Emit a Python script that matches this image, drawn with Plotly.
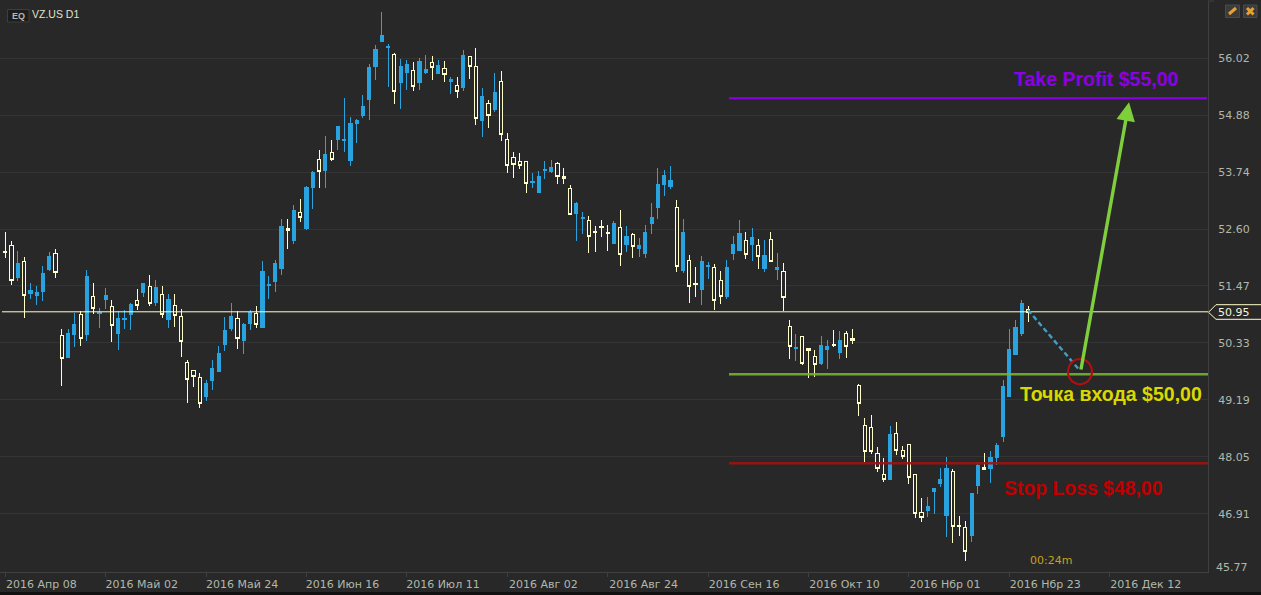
import plotly.graph_objects as go

W, H = 1261, 595
PL, PT, PR, PB = 1208, 1, 1208, 572

BG = "#282828"
GRID = "#343434"
FRAME = "#404040"
CREAM = "#ffffcc"
BLUE = "#29a3df"
AXTXT = "#b0b8ac"

tick_labels = ["2016 Апр 08", "2016 Май 02", "2016 Май 24", "2016 Июн 16", "2016 Июл 11", "2016 Авг 02",
               "2016 Авг 24", "2016 Сен 16", "2016 Окт 10", "2016 Нбр 01", "2016 Нбр 23", "2016 Дек 12"]
bars_per_tick = 16
price_ticks = [56.02, 54.88, 53.74, 52.60, 51.47, 50.33, 49.19, 48.05, 46.91]
last_price_tick = 45.77

highs = [
52.55,52.36,52.16,52.04,51.52,51.46,51.87,52.15,52.20,50.60,
50.60,50.93,50.96,51.79,51.52,51.02,51.42,51.18,50.96,50.98,
51.12,51.40,51.52,51.68,51.58,51.46,51.30,51.30,51.00,49.98,
49.77,49.72,49.58,49.98,50.26,50.84,51.12,50.96,50.72,50.98,
51.06,51.97,51.67,51.99,52.81,52.81,53.09,53.20,53.46,53.76,
54.18,54.47,54.38,54.67,55.22,54.84,54.80,55.28,55.90,56.28,
56.94,56.30,56.12,56.00,55.98,55.94,56.02,56.08,56.06,55.98,
55.97,55.64,55.64,56.18,56.06,56.22,55.42,55.18,55.72,55.76,
54.52,54.14,54.12,53.96,53.72,53.76,53.96,53.98,53.94,53.82,
53.48,53.15,52.94,52.86,52.66,52.78,52.68,52.76,52.98,52.66,
52.52,52.42,52.68,53.12,53.82,53.78,53.86,53.18,52.80,52.08,
51.84,52.06,51.94,51.90,51.76,51.98,52.46,52.78,52.54,52.62,
52.40,52.38,52.54,52.12,51.92,50.78,50.50,50.46,50.23,50.18,
50.46,50.38,50.58,50.56,50.56,50.60,49.50,48.82,48.88,48.24,
48.02,48.66,48.74,48.26,48.31,47.69,47.22,47.24,47.42,47.82,
48.04,47.80,46.86,46.76,47.32,47.94,48.12,48.16,48.32,49.58,
50.60,50.78,51.19,51.07]

body_tops = [
52.16,52.27,51.92,51.95,51.37,51.33,51.71,52.05,52.11,50.47,
50.52,50.70,50.89,51.66,51.25,50.94,51.28,51.05,50.82,50.82,
51.10,51.17,51.52,51.45,51.44,51.29,51.20,51.07,50.85,49.93,
49.77,49.64,49.52,49.82,50.12,50.58,50.86,50.81,50.70,50.94,
50.92,51.75,51.49,51.91,52.65,52.61,52.97,52.94,53.43,53.74,
54.00,54.09,54.13,54.65,54.40,54.71,54.78,55.06,55.84,56.20,
56.47,56.25,56.09,55.86,55.90,55.77,55.96,55.80,55.93,55.88,
55.81,55.59,55.47,56.08,56.05,55.85,55.26,55.11,55.34,55.55,
54.39,54.03,53.96,53.96,53.55,53.66,53.79,53.84,53.92,53.66,
53.41,53.12,52.84,52.78,52.55,52.65,52.53,52.72,52.64,52.46,
52.50,52.28,52.54,52.84,53.50,53.68,53.58,53.03,52.54,51.97,
51.51,51.96,51.87,51.84,51.57,51.84,52.30,52.52,52.38,52.44,
52.28,52.08,52.40,51.84,51.76,50.66,50.24,50.46,50.21,50.05,
50.28,50.26,50.29,50.38,50.52,50.42,49.48,48.68,48.64,48.11,
47.69,48.50,48.52,48.17,48.29,47.69,46.93,47.06,47.42,47.60,
47.82,47.76,46.68,46.64,47.32,47.88,47.83,48.04,48.28,49.46,
50.20,50.64,51.12,51.00]

body_bottoms = [
52.14,51.58,51.63,51.28,51.31,51.27,51.35,51.79,51.74,50.02,
50.03,50.49,50.42,50.49,51.02,50.92,51.19,50.68,50.51,50.79,
50.89,51.08,51.33,51.12,51.13,50.90,50.79,50.88,50.36,49.60,
49.66,49.12,49.25,49.57,49.75,50.29,50.61,50.42,50.37,50.71,
50.70,50.63,51.47,51.55,51.81,52.57,52.37,52.83,52.61,53.43,
53.75,53.77,54.00,54.39,54.37,53.97,54.71,54.87,55.19,55.85,
56.35,56.23,55.36,55.53,55.73,55.46,55.53,55.73,55.83,55.71,
55.70,55.56,55.36,55.43,55.86,54.82,54.77,54.88,54.99,54.50,
53.88,53.90,53.88,53.51,53.53,53.33,53.77,53.75,53.66,53.61,
52.90,52.91,52.81,52.46,52.53,52.63,52.51,52.31,52.09,52.29,
52.26,52.21,52.11,52.71,53.03,53.49,53.45,51.86,51.77,51.46,
51.49,51.39,51.85,51.17,51.25,51.25,52.11,52.17,52.10,52.29,
52.05,51.81,51.95,51.80,51.24,50.25,50.21,49.91,50.17,49.89,
49.91,50.19,50.27,50.13,50.25,50.38,49.12,48.15,48.15,47.81,
47.59,47.59,48.17,48.05,47.63,46.91,46.83,46.97,47.35,47.51,
46.87,46.65,46.65,46.16,46.47,47.47,47.80,47.81,48.03,48.45,
49.25,50.09,50.51,50.94]

lows = [
52.03,51.49,51.57,50.83,51.21,51.09,51.17,51.77,51.63,49.47,
50.03,50.25,50.27,50.37,50.91,50.63,51.01,50.35,50.19,50.61,
50.59,50.99,51.25,51.07,51.07,50.83,50.63,50.65,50.05,49.13,
49.45,49.03,49.17,49.39,49.75,50.17,50.57,50.21,50.11,50.59,
50.63,50.63,51.21,51.35,51.69,52.21,52.31,52.75,52.59,53.01,
53.43,53.43,53.97,54.19,54.15,53.87,54.33,54.83,54.79,55.59,
56.35,55.45,55.11,55.01,55.39,55.37,55.39,55.71,55.59,55.71,
55.55,55.31,55.23,55.37,55.61,54.69,54.45,54.63,54.95,54.37,
53.73,53.63,53.81,53.33,53.43,53.33,53.61,53.73,53.51,53.51,
52.90,52.37,52.51,52.13,52.15,52.45,52.17,52.31,51.87,52.15,
52.03,52.05,52.03,52.51,52.81,53.27,53.41,51.75,51.73,51.13,
51.25,51.09,51.61,50.99,51.11,51.21,51.99,52.17,52.01,51.97,
51.81,51.75,51.95,51.59,50.97,50.01,49.97,49.89,49.63,49.65,
49.89,49.81,50.25,50.01,50.03,50.30,48.87,47.94,48.11,47.75,
47.55,47.59,48.09,48.01,47.51,46.83,46.75,46.85,46.91,47.45,
46.45,46.33,46.47,45.97,46.35,47.31,47.80,47.53,47.89,48.35,
49.25,50.09,50.46,50.75]

# W = hollow (falling) candle, B = solid blue (rising) candle
candle_kind = ("WWBWBBBBWW" "BBWBWBBWBB" "BWBWBWBWWW" "WWBBBBBWBB" "WBBBBWBWBB" "WBWBBBBBBB"
               "BBWBBWBBWB" "WBWBWWBWBW" "WWWWBBBBWW" "WBBWWWWBWB" "WBBBBBBWBW" "WBBWWBBBWB"
               "WBWBWWBWWW" "BBWBWWWWWW" "WBWWWWWBBB" "BWWWBBWBBB" "BBBW")

current_price = 50.95
take_profit = 55.22
entry_level = 49.70
stop_loss = 47.92

n = len(highs)
assert n == len(body_tops) == len(body_bottoms) == len(lows) == len(candle_kind)

opens = [b if k == "B" else t for k, t, b in zip(candle_kind, body_tops, body_bottoms)]
closes = [t if k == "B" else b for k, t, b in zip(candle_kind, body_tops, body_bottoms)]

def bar(px):
    return (px - 5.3) / 6.275

def price(py):
    return 57.186 - py / 50

def xp(px):
    return px / PR

def yp(py):
    return (PB - py) / (PB - PT)

fig = go.Figure(go.Candlestick(
    x=list(range(n)), open=opens, high=highs, low=lows, close=closes,
    increasing=dict(line=dict(color=BLUE, width=1), fillcolor=BLUE),
    decreasing=dict(line=dict(color=CREAM, width=1), fillcolor=BG),
    whiskerwidth=0, hoverinfo="skip",
))

shapes = []

def seg(x0, y0, x1, y1, color, width, dash="solid", opacity=1.0):
    shapes.append(dict(type="line", xref="x", yref="y", x0=x0, y0=y0, x1=x1, y1=y1,
                       line=dict(color=color, width=width, dash=dash), opacity=opacity))

def pxrect(x0, y0, x1, y1, fill, line=None, lw=1):
    shapes.append(dict(type="rect", xref="paper", yref="paper", x0=xp(x0), x1=xp(x1), y0=yp(y0), y1=yp(y1),
                       fillcolor=fill, line=dict(color=line or fill, width=lw if line else 0)))

def pxline(x0, y0, x1, y1, color, width):
    shapes.append(dict(type="line", xref="paper", yref="paper", x0=xp(x0), x1=xp(x1), y0=yp(y0), y1=yp(y1),
                       line=dict(color=color, width=width)))

seg(bar(2), current_price, bar(1208), current_price, CREAM, 1)
seg(bar(729), take_profit, bar(1207), take_profit, "#8c00e6", 2)
seg(bar(729), entry_level, bar(1208), entry_level, "#74b52e", 2.5, opacity=0.9)
seg(bar(729), stop_loss, bar(1208), stop_loss, "#a01212", 2.5, opacity=0.9)
seg(bar(1028), price(310), bar(1080), price(370.7), "#3f9fc4", 2.4, dash="5px,3px")
shapes.append(dict(type="circle", xref="x", yref="y", x0=bar(1068), x1=bar(1092), y0=price(384.3), y1=price(359),
                   line=dict(color="#b01010", width=2.2)))

# frame bits
pxline(1208, 1, 1214, 1, FRAME, 1)
pxrect(0, 592, W, 595, "#111111")

# current price tag
def px_path():
    pts = [(1208.5, 312.3), (1216, 304.7), (1262, 304.7), (1262, 319.3), (1216, 319.3)]
    return "M " + " L ".join(f"{xp(a):.5f},{yp(b):.5f}" for a, b in pts) + " Z"
shapes.append(dict(type="path", xref="paper", yref="paper", path=px_path(), fillcolor=BG,
                   line=dict(color=CREAM, width=1)))

# EQ badge
pxrect(7.5, 9.5, 29, 22, "#1d1d1b", "#3e3e3c", 1)

# window buttons
pxrect(1225.5, 5, 1239.5, 17.5, "#3b3b3b", "#4a4a4a", 1)
pxrect(1243.5, 5, 1257, 17.5, "#3b3b3b", "#4a4a4a", 1)
ORANGE = "#e8a030"
pxline(1229, 14, 1236, 8, ORANGE, 3)
pxline(1247, 8, 1253.5, 14.5, ORANGE, 3)
pxline(1253.5, 8, 1247, 14.5, ORANGE, 3)

anns = []

def note(text, px, py, color, size, family, bold=False, anchor="left"):
    anns.append(dict(text=f"<b>{text}</b>" if bold else text, x=xp(px), y=yp(py), xref="paper", yref="paper",
                     xanchor=anchor, yanchor="middle", showarrow=False, borderpad=0, borderwidth=0,
                     font=dict(color=color, size=size, family=family)))

ARIAL = "Liberation Sans"
DEJA = "DejaVu Sans"

anns.append(dict(x=bar(1129), y=price(102.3), ax=bar(1080.7), ay=price(371), xref="x", yref="y",
                 axref="x", ayref="y", showarrow=True, arrowhead=2, arrowsize=1.1, arrowwidth=3.4,
                 arrowcolor="#7fce3c", text=""))
note("Take Profit $55,00", 1014, 79, "#8c00e6", 19.5, ARIAL, True)
note("Точка входа $50,00", 1020, 393.5, "#d9d900", 19.5, ARIAL, True)
note("Stop Loss $48,00", 1004, 488, "#c00000", 19.4, ARIAL, True)
note("00:24m", 1029.5, 560.5, "#c4a21c", 11, DEJA)
note("VZ.US D1", 32, 14, "#e2e2cc", 10.5, ARIAL)
note("EQ", 18.3, 16, "#b8b8b0", 9, ARIAL, True, "center")
note("50.95", 1217.5, 313, "#f4f4dc", 11, DEJA)
note(f"{last_price_tick:.2f}", 1216, 567, AXTXT, 11, DEJA)

fig.update_layout(
    width=W, height=H, autosize=False,
    paper_bgcolor=BG, plot_bgcolor=BG,
    margin=dict(l=0, r=W - PR, t=PT, b=H - PB, pad=0),
    showlegend=False, boxgap=0.27,
    shapes=shapes, annotations=anns,
    font=dict(family=DEJA, size=11, color=AXTXT),
    xaxis=dict(
        range=[bar(0), bar(PR)], rangeslider=dict(visible=False),
        tickmode="array", tickvals=[i * bars_per_tick for i in range(len(tick_labels))], ticktext=tick_labels,
        showgrid=False, zeroline=False, showline=True, linecolor=FRAME, linewidth=1,
        ticks="outside", ticklen=4, tickcolor=FRAME, tickwidth=1,
        tickfont=dict(family=DEJA, size=11, color=AXTXT), tickangle=0, ticklabelshift=36, ticklabelstandoff=-2,
    ),
    yaxis=dict(
        side="right", range=[price(PB), price(PT)],
        tickmode="array", tickvals=price_ticks, ticktext=[f"{v:.2f}" for v in price_ticks],
        showgrid=True, gridcolor=GRID, gridwidth=1, zeroline=False, showline=True, linecolor=FRAME, linewidth=1,
        ticks="", ticklabelstandoff=7,
        tickfont=dict(family=DEJA, size=11, color=AXTXT),
    ),
)

fig.write_html("out.html", config=dict(displayModeBar=False),
               post_script=("document.body.style.margin='0';document.body.style.background='%s';"
                            "document.querySelectorAll('.boxlayer path').forEach(function(p){"
                            "p.style.shapeRendering='crispEdges';});" % BG))
